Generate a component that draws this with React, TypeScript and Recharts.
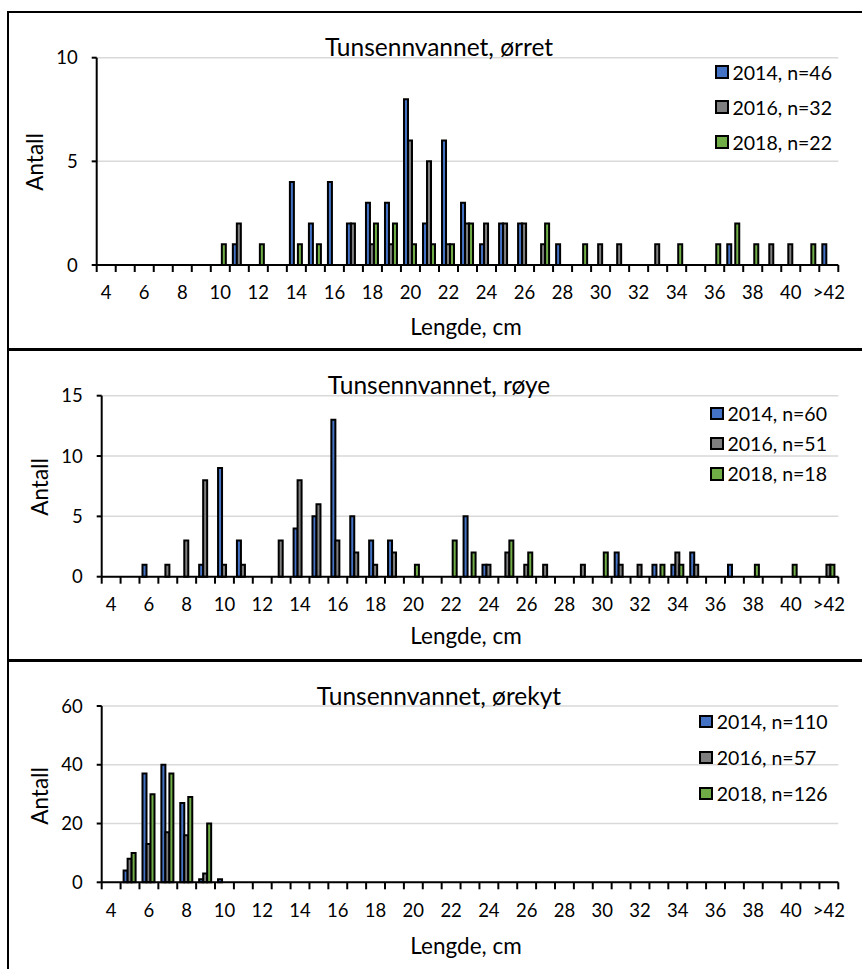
import { Bar, BarChart, CartesianGrid, Legend, XAxis, YAxis } from 'recharts'

// length classes, cm (last class is everything above 42)
const lengths = [
  '4', '5', '6', '7', '8', '9', '10', '11', '12', '13', '14', '15', '16', '17', '18', '19', '20',
  '21', '22', '23', '24', '25', '26', '27', '28', '29', '30', '31', '32', '33', '34', '35', '36',
  '37', '38', '39', '40', '41', '>42',
]

// ørret
const orret2014 = [0, 0, 0, 0, 0, 0, 0, 1, 0, 0, 4, 2, 4, 2, 3, 3, 8, 2, 6, 3, 1, 2, 2, 0, 1, 0, 0, 0, 0, 0, 0, 0, 0, 1, 0, 0, 0, 0, 1]
const orret2016 = [0, 0, 0, 0, 0, 0, 0, 2, 0, 0, 0, 0, 0, 2, 1, 1, 6, 5, 1, 2, 2, 2, 2, 1, 0, 0, 1, 1, 0, 1, 0, 0, 0, 0, 0, 1, 1, 0, 0]
const orret2018 = [0, 0, 0, 0, 0, 0, 1, 0, 1, 0, 1, 1, 0, 0, 2, 2, 1, 1, 1, 2, 0, 0, 0, 2, 0, 1, 0, 0, 0, 0, 1, 0, 1, 2, 1, 0, 0, 1, 0]

// røye
const roye2014 = [0, 0, 1, 0, 0, 1, 9, 3, 0, 0, 4, 5, 13, 5, 3, 3, 0, 0, 0, 5, 1, 0, 0, 0, 0, 0, 0, 2, 0, 1, 1, 2, 0, 1, 0, 0, 0, 0, 0]
const roye2016 = [0, 0, 0, 1, 3, 8, 1, 1, 0, 3, 8, 6, 3, 2, 1, 2, 0, 0, 0, 0, 1, 2, 1, 1, 0, 1, 0, 1, 1, 0, 2, 1, 0, 0, 0, 0, 0, 0, 1]
const roye2018 = [0, 0, 0, 0, 0, 0, 0, 0, 0, 0, 0, 0, 0, 0, 0, 0, 1, 0, 3, 2, 0, 3, 2, 0, 0, 0, 2, 0, 0, 1, 1, 0, 0, 0, 1, 0, 1, 0, 1]

// ørekyt
const orekyt2014 = [0, 4, 37, 40, 27, 1, 1, 0, 0, 0, 0, 0, 0, 0, 0, 0, 0, 0, 0, 0, 0, 0, 0, 0, 0, 0, 0, 0, 0, 0, 0, 0, 0, 0, 0, 0, 0, 0, 0]
const orekyt2016 = [0, 8, 13, 17, 16, 3, 0, 0, 0, 0, 0, 0, 0, 0, 0, 0, 0, 0, 0, 0, 0, 0, 0, 0, 0, 0, 0, 0, 0, 0, 0, 0, 0, 0, 0, 0, 0, 0, 0]
const orekyt2018 = [0, 10, 30, 37, 29, 20, 0, 0, 0, 0, 0, 0, 0, 0, 0, 0, 0, 0, 0, 0, 0, 0, 0, 0, 0, 0, 0, 0, 0, 0, 0, 0, 0, 0, 0, 0, 0, 0, 0]

const orretTicks = [0, 5, 10]
const royeTicks = [0, 5, 10, 15]
const orekytTicks = [0, 20, 40, 60]

const FONT = 'Lato, "Open Sans", sans-serif'
const COLORS = ['#4472C4', '#7F7F7F', '#70AD47']
const X_AXIS_H = 30
const Y_AXIS_W = 60
const PLOT_RIGHT = 838.3
const TICK_FS = 18.5

interface PanelSpec {
  title: string
  names: string[]
  series: number[][]
  ticks: number[]
  top: number
  height: number
  plotLeft: number
  plotTop: number
  plotBottom: number
  legendX: number
  legendY: number
  legendGap: number
  yLabelX: number
  yLabelY: number
  xLabelY: number
}

const panels: PanelSpec[] = [
  {
    title: 'Tunsennvannet, ørret',
    names: ['2014, n=46', '2016, n=32', '2018, n=22'],
    series: [orret2014, orret2016, orret2018],
    ticks: orretTicks,
    top: 13, height: 335,
    plotLeft: 96.7, plotTop: 57.7, plotBottom: 265,
    legendX: 715, legendY: 72, legendGap: 35,
    yLabelX: 35, yLabelY: 162, xLabelY: 327,
  },
  {
    title: 'Tunsennvannet, røye',
    names: ['2014, n=60', '2016, n=51', '2018, n=18'],
    series: [roye2014, roye2016, roye2018],
    ticks: royeTicks,
    top: 351, height: 308,
    plotLeft: 101.7, plotTop: 395.7, plotBottom: 576.7,
    legendX: 710, legendY: 413.3, legendGap: 30.3,
    yLabelX: 40, yLabelY: 487, xLabelY: 636,
  },
  {
    title: 'Tunsennvannet, ørekyt',
    names: ['2014, n=110', '2016, n=57', '2018, n=126'],
    series: [orekyt2014, orekyt2016, orekyt2018],
    ticks: orekytTicks,
    top: 662, height: 307,
    plotLeft: 101.7, plotTop: 706, plotBottom: 882.3,
    legendX: 699.3, legendY: 721.7, legendGap: 35.8,
    yLabelX: 40, yLabelY: 796, xLabelY: 946,
  },
]

function LengthTick(props: any) {
  const { x, y, payload, index } = props
  const half = payload && typeof payload.offset === 'number' && payload.offset > 0 ? payload.offset : 9.5
  const last = index === lengths.length - 1
  return (
    <g>
      <line x1={x - half} x2={x - half} y1={y} y2={y + 7} stroke="#000" strokeWidth={2} />
      {last && <line x1={x + half} x2={x + half} y1={y} y2={y + 7} stroke="#000" strokeWidth={2} />}
      {index % 2 === 0 && (
        <text x={x} y={y + 28} dy="0.35em" textAnchor="middle" fill="#000" fontSize={TICK_FS} fontFamily={FONT}>
          {payload.value}
        </text>
      )}
    </g>
  )
}

function LegendBox({ payload, gap }: { payload?: any[]; gap: number }) {
  return (
    <div style={{ fontFamily: FONT, fontSize: 19.5, color: '#000' }}>
      {(payload ?? []).map((entry) => (
        <div key={entry.value} style={{ height: gap, display: 'flex', alignItems: 'center', whiteSpace: 'nowrap' }}>
          <span
            style={{
              width: 9.5,
              height: 9.5,
              background: entry.color,
              border: '2px solid #000',
              marginRight: 4,
              display: 'inline-block',
            }}
          />
          <span>{entry.value}</span>
        </div>
      ))}
    </div>
  )
}

function Panel({ p }: { p: PanelSpec }) {
  const rows = lengths.map((len, i) => ({
    len,
    a: p.series[0][i],
    b: p.series[1][i],
    c: p.series[2][i],
  }))
  const margin = {
    top: p.plotTop - p.top,
    bottom: p.top + p.height - p.plotBottom - X_AXIS_H,
    left: p.plotLeft - Y_AXIS_W,
    right: 862 - PLOT_RIGHT,
  }
  return (
    <div style={{ position: 'absolute', left: 0, top: p.top }}>
      <BarChart width={862} height={p.height} data={rows} margin={margin} barGap={0} barCategoryGap="16%">
        <CartesianGrid vertical={false} stroke="#d9d9d9" strokeWidth={1.5} />
        <XAxis
          dataKey="len"
          height={X_AXIS_H}
          interval={0}
          tickLine={false}
          tickSize={0}
          tickMargin={0}
          axisLine={{ stroke: '#000', strokeWidth: 2 }}
          tick={(t: any) => <LengthTick {...t} />}
        />
        <YAxis
          width={Y_AXIS_W}
          domain={[0, p.ticks[p.ticks.length - 1]]}
          ticks={p.ticks}
          interval={0}
          tickSize={5}
          tickMargin={14}
          axisLine={{ stroke: '#000', strokeWidth: 2 }}
          tickLine={{ stroke: '#000', strokeWidth: 2 }}
          tick={{ fill: '#000', fontSize: TICK_FS, fontFamily: FONT }}
        />
        <Legend
          layout="horizontal"
          verticalAlign="middle"
          align="center"
          wrapperStyle={{
            left: p.legendX,
            top: p.legendY - p.top - p.legendGap / 2,
            width: 160,
          }}
          content={(props: any) => <LegendBox payload={props.payload} gap={p.legendGap} />}
        />
        {['a', 'b', 'c'].map((key, i) => (
          <Bar
            key={key}
            dataKey={key}
            name={p.names[i]}
            fill={COLORS[i]}
            stroke="#000"
            strokeWidth={2}
            isAnimationActive={false}
          />
        ))}
      </BarChart>
    </div>
  )
}

export default function App() {
  return (
    <div
      style={{
        position: 'fixed',
        left: 0,
        top: 0,
        width: 862,
        height: 969,
        overflow: 'hidden',
        background: '#fff',
        fontFamily: FONT,
      }}
    >
      <div
        style={{
          position: 'absolute',
          left: 7,
          top: 11,
          width: 1000,
          height: 1000,
          borderLeft: '2px solid #000',
          borderTop: '2px solid #000',
        }}
      />
      <div style={{ position: 'absolute', left: 7, top: 348, width: 900, height: 3, background: '#000' }} />
      <div style={{ position: 'absolute', left: 7, top: 659, width: 900, height: 3, background: '#000' }} />
      {panels.map((p) => (
        <Panel key={p.title} p={p} />
      ))}
      <svg width={862} height={969} style={{ position: 'absolute', left: 0, top: 0, pointerEvents: 'none' }}>
        {panels.map((p) => (
          <g key={p.title} fontFamily={FONT} fill="#000">
            <text x={439} y={p.plotTop - 1.5} textAnchor="middle" fontSize={24.5}>
              {p.title}
            </text>
            <text
              x={p.yLabelX}
              y={p.yLabelY}
              textAnchor="middle"
              dy="0.35em"
              fontSize={22.5}
              transform={`rotate(-90 ${p.yLabelX} ${p.yLabelY})`}
            >
              Antall
            </text>
            <text x={466} y={p.xLabelY} dy="0.35em" textAnchor="middle" fontSize={22.5}>
              Lengde, cm
            </text>
          </g>
        ))}
      </svg>
    </div>
  )
}
